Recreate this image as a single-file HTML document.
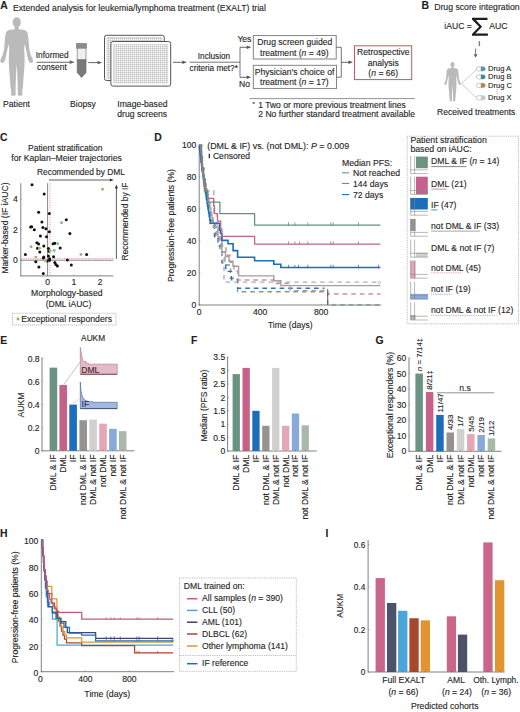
<!DOCTYPE html>
<html><head><meta charset="utf-8"><style>
html,body{margin:0;padding:0;background:#fff;}
svg{display:block;}
text{font-family:"Liberation Sans", sans-serif;}
</style></head><body>
<svg width="520" height="712" viewBox="0 0 520 712">
<defs>
<pattern id="grid" x="0" y="0" width="2" height="2" patternUnits="userSpaceOnUse">
<rect width="2" height="2" fill="#fff"/><path d="M0,0.5 H2 M0.5,0 V2" stroke="#b4b4b4" stroke-width="0.5"/>
</pattern>
</defs>
<text x="0.20" y="8.90" font-size="10.4" text-anchor="start" font-weight="bold" fill="#1e1e1e" stroke="#1e1e1e" stroke-width="0.12" >A</text>
<text x="13.00" y="10.50" font-size="8.68" text-anchor="start" font-weight="normal" fill="#1e1e1e" stroke="#1e1e1e" stroke-width="0.12" >Extended analysis for leukemia/lymphoma treatment (EXALT) trial</text>
<g transform="translate(0.00,0.00) scale(1.0)" fill="#bababa">
<ellipse cx="16.7" cy="22.3" rx="4.1" ry="5.1"/>
<path d="M14.70,26.50 L14.60,29.20 C10.50,29.50 7.00,30.00 6.00,32.50 C5.00,35.50 4.80,41.00 4.30,47.00 C3.80,51.00 3.00,54.50 2.00,56.50 C0.80,58.00 0.00,60.50 0.60,62.20 C1.60,63.60 4.00,63.00 4.80,61.00 C5.50,58.50 6.60,53.50 7.30,50.00 C7.80,47.50 8.30,45.50 8.80,44.00 L9.20,49.00 C9.00,53.00 8.70,57.00 8.80,61.00 C8.90,68.00 9.50,74.00 10.00,79.00 C10.30,83.00 10.00,86.00 11.20,90.50 L11.00,95.00 C11.50,96.00 15.30,96.00 15.60,95.00 L15.60,88.00 C15.90,78.00 16.20,70.00 16.70,64.00 C17.20,70.00 17.50,78.00 17.80,88.00 L17.80,95.00 C18.10,96.00 21.90,96.00 22.40,95.00 L22.20,90.50 C23.40,86.00 23.10,83.00 23.40,79.00 C23.90,74.00 24.50,68.00 24.60,61.00 C24.70,57.00 24.40,53.00 24.20,49.00 L24.60,44.00 C25.10,45.50 25.60,47.50 26.10,50.00 C26.80,53.50 27.90,58.50 28.60,61.00 C29.40,63.00 31.80,63.60 32.80,62.20 C33.40,60.50 32.60,58.00 31.40,56.50 C30.40,54.50 29.60,51.00 29.10,47.00 C28.60,41.00 28.40,35.50 27.40,32.50 C26.40,30.00 22.90,29.50 18.80,29.20 L18.70,26.50 Z"/>
</g>
<text x="16.50" y="107.00" font-size="8.6" text-anchor="middle" font-weight="normal" fill="#1e1e1e" stroke="#1e1e1e" stroke-width="0.12" >Patient</text>
<text x="35.80" y="57.50" font-size="8.3" text-anchor="start" font-weight="normal" fill="#1e1e1e" stroke="#1e1e1e" stroke-width="0.12" >Informed</text>
<line x1="36.50" y1="62.20" x2="70.20" y2="62.20" stroke="#666" stroke-width="1.1" />
<path d="M74.70,62.20 L69.70,60.30 L69.70,64.10 Z" fill="#666" stroke="none" stroke-width="0.8" />
<text x="37.00" y="70.20" font-size="8.5" text-anchor="start" font-weight="normal" fill="#1e1e1e" stroke="#1e1e1e" stroke-width="0.12" >consent</text>
<rect x="77.20" y="47.80" width="8.80" height="12.20" fill="#efefef" stroke="#8a8a8a" stroke-width="0.8" />
<path d="M77.2,59.7 L86,59.7 L86,72.5 L81.6,77.6 L77.2,72.5 Z" fill="#7a7a7a" stroke="#6a6a6a" stroke-width="0.6" />
<rect x="76.30" y="43.20" width="10.40" height="5.00" fill="#8b8b8b" stroke="#777" stroke-width="0.4" />
<text x="83.00" y="107.00" font-size="8.6" text-anchor="middle" font-weight="normal" fill="#1e1e1e" stroke="#1e1e1e" stroke-width="0.12" >Biopsy</text>
<line x1="88.20" y1="62.60" x2="98.10" y2="62.60" stroke="#555" stroke-width="0.9" />
<path d="M102.10,62.60 L97.60,60.90 L97.60,64.30 Z" fill="#555" stroke="none" stroke-width="0.8" />
<rect x="104.50" y="35.30" width="59.80" height="45.20" fill="#fff" stroke="#555" stroke-width="1.0" rx="2"/>
<rect x="107.00" y="37.50" width="55.00" height="41.00" fill="url(#grid)" stroke="#bbb" stroke-width="0.5" rx="1"/>
<rect x="110.90" y="41.50" width="59.80" height="44.60" fill="#fff" stroke="#555" stroke-width="1.0" rx="2"/>
<rect x="114.50" y="44.50" width="53.00" height="38.50" fill="url(#grid)" stroke="#c8c8c8" stroke-width="0.5" />
<rect x="113.00" y="44.00" width="2.20" height="39.50" fill="#ddd" stroke="none" stroke-width="0.8" />
<text x="142.40" y="107.00" font-size="8.6" text-anchor="middle" font-weight="normal" fill="#1e1e1e" stroke="#1e1e1e" stroke-width="0.12" >Image-based</text>
<text x="142.20" y="116.90" font-size="8.6" text-anchor="middle" font-weight="normal" fill="#1e1e1e" stroke="#1e1e1e" stroke-width="0.12" >drug screens</text>
<line x1="173.00" y1="62.30" x2="182.80" y2="62.30" stroke="#555" stroke-width="0.9" />
<path d="M186.80,62.30 L182.30,60.60 L182.30,64.00 Z" fill="#555" stroke="none" stroke-width="0.8" />
<text x="214.00" y="58.50" font-size="8.2" text-anchor="middle" font-weight="normal" fill="#1e1e1e" stroke="#1e1e1e" stroke-width="0.12" >Inclusion</text>
<line x1="189.50" y1="62.20" x2="240.00" y2="62.20" stroke="#555" stroke-width="0.8" />
<text x="189.60" y="71.00" font-size="8.2" text-anchor="start" font-weight="normal" fill="#1e1e1e" stroke="#1e1e1e" stroke-width="0.12" >criteria met?*</text>
<line x1="240.00" y1="47.30" x2="240.00" y2="77.30" stroke="#555" stroke-width="0.8" />
<line x1="240.00" y1="47.30" x2="247.20" y2="47.30" stroke="#555" stroke-width="0.9" />
<path d="M251.20,47.30 L246.70,45.60 L246.70,49.00 Z" fill="#555" stroke="none" stroke-width="0.8" />
<line x1="240.00" y1="77.30" x2="247.20" y2="77.30" stroke="#555" stroke-width="0.9" />
<path d="M251.20,77.30 L246.70,75.60 L246.70,79.00 Z" fill="#555" stroke="none" stroke-width="0.8" />
<text x="244.40" y="41.60" font-size="8.6" text-anchor="middle" font-weight="normal" fill="#1e1e1e" stroke="#1e1e1e" stroke-width="0.12" >Yes</text>
<text x="244.60" y="87.30" font-size="8.6" text-anchor="middle" font-weight="normal" fill="#1e1e1e" stroke="#1e1e1e" stroke-width="0.12" >No</text>
<rect x="253.30" y="35.60" width="82.90" height="23.40" fill="#fff" stroke="#777" stroke-width="0.9" />
<text x="294.80" y="45.40" font-size="8.6" text-anchor="middle" font-weight="normal" fill="#1e1e1e" stroke="#1e1e1e" stroke-width="0.12" >Drug screen guided</text>
<text x="294.30" y="56.00" font-size="8.6" text-anchor="middle" font-weight="normal" fill="#1e1e1e" stroke="#1e1e1e" stroke-width="0.12" >treatment (<tspan font-style="italic">n</tspan> = 49)</text>
<rect x="253.30" y="65.30" width="83.20" height="23.30" fill="#fff" stroke="#777" stroke-width="0.9" />
<text x="294.50" y="74.60" font-size="8.6" text-anchor="middle" font-weight="normal" fill="#1e1e1e" stroke="#1e1e1e" stroke-width="0.12" >Physician’s choice of</text>
<text x="294.30" y="84.80" font-size="8.6" text-anchor="middle" font-weight="normal" fill="#1e1e1e" stroke="#1e1e1e" stroke-width="0.12" >treatment (<tspan font-style="italic">n</tspan> = 17)</text>
<path d="M336.2,47.3 H341.3 V77.2 H336.2" fill="none" stroke="#666" stroke-width="0.9" />
<line x1="341.30" y1="62.30" x2="349.00" y2="62.30" stroke="#555" stroke-width="0.9" />
<path d="M353.00,62.30 L348.50,60.60 L348.50,64.00 Z" fill="#555" stroke="none" stroke-width="0.8" />
<rect x="354.50" y="45.80" width="57.20" height="33.80" fill="#fff" stroke="#cf5064" stroke-width="1.0" />
<text x="383.30" y="55.00" font-size="8.6" text-anchor="middle" font-weight="normal" fill="#1e1e1e" stroke="#1e1e1e" stroke-width="0.12" >Retrospective</text>
<text x="383.30" y="65.50" font-size="8.6" text-anchor="middle" font-weight="normal" fill="#1e1e1e" stroke="#1e1e1e" stroke-width="0.12" >analysis</text>
<text x="383.30" y="75.80" font-size="8.6" text-anchor="middle" font-weight="normal" fill="#1e1e1e" stroke="#1e1e1e" stroke-width="0.12" >(<tspan font-style="italic">n</tspan> = 66)</text>
<line x1="249.50" y1="98.60" x2="415.00" y2="98.60" stroke="#777" stroke-width="0.8" />
<text x="252.60" y="105.50" font-size="6" text-anchor="start" font-weight="normal" fill="#1e1e1e" stroke="#1e1e1e" stroke-width="0.12" >*</text>
<text x="258.20" y="107.80" font-size="8.56" text-anchor="start" font-weight="normal" fill="#1e1e1e" stroke="#1e1e1e" stroke-width="0.12" >1 Two or more previous treatment lines</text>
<text x="258.20" y="116.60" font-size="8.63" text-anchor="start" font-weight="normal" fill="#1e1e1e" stroke="#1e1e1e" stroke-width="0.12" >2 No further standard treatment available</text>
<text x="421.60" y="9.10" font-size="10.4" text-anchor="start" font-weight="bold" fill="#1e1e1e" stroke="#1e1e1e" stroke-width="0.12" >B</text>
<text x="434.20" y="9.60" font-size="8.7" text-anchor="start" font-weight="normal" fill="#1e1e1e" stroke="#1e1e1e" stroke-width="0.12" >Drug score integration</text>
<text x="444.30" y="29.30" font-size="8.6" text-anchor="start" font-weight="normal" fill="#1e1e1e" stroke="#1e1e1e" stroke-width="0.12" >iAUC =</text>
<path d="M472,17.8 H487.5 V20.1 H475.9 L482.1,26.8 L475.5,33.5 H487.9 V35.8 H472 V34.1 L479.1,26.8 L472,19.5 Z" fill="#1e1e1e" stroke="none" stroke-width="0.8" />
<text x="489.30" y="29.30" font-size="8.7" text-anchor="start" font-weight="normal" fill="#1e1e1e" stroke="#1e1e1e" stroke-width="0.12" >AUC</text>
<text x="479.30" y="45.80" font-size="7.2" text-anchor="middle" font-weight="normal" fill="#1e1e1e" stroke="#1e1e1e" stroke-width="0.12" >i</text>
<line x1="475.60" y1="48.50" x2="475.60" y2="54.70" stroke="#666" stroke-width="0.9" />
<path d="M475.60,57.80 L473.60,54.20 L477.60,54.20 Z" fill="#666" stroke="none" stroke-width="0.8" />
<g transform="translate(444.08,53.23) scale(0.504)" fill="#bababa">
<ellipse cx="16.7" cy="22.3" rx="4.1" ry="5.1"/>
<path d="M14.70,26.50 L14.60,29.20 C10.50,29.50 7.00,30.00 6.00,32.50 C5.00,35.50 4.80,41.00 4.30,47.00 C3.80,51.00 3.00,54.50 2.00,56.50 C0.80,58.00 0.00,60.50 0.60,62.20 C1.60,63.60 4.00,63.00 4.80,61.00 C5.50,58.50 6.60,53.50 7.30,50.00 C7.80,47.50 8.30,45.50 8.80,44.00 L9.20,49.00 C9.00,53.00 8.70,57.00 8.80,61.00 C8.90,68.00 9.50,74.00 10.00,79.00 C10.30,83.00 10.00,86.00 11.20,90.50 L11.00,95.00 C11.50,96.00 15.30,96.00 15.60,95.00 L15.60,88.00 C15.90,78.00 16.20,70.00 16.70,64.00 C17.20,70.00 17.50,78.00 17.80,88.00 L17.80,95.00 C18.10,96.00 21.90,96.00 22.40,95.00 L22.20,90.50 C23.40,86.00 23.10,83.00 23.40,79.00 C23.90,74.00 24.50,68.00 24.60,61.00 C24.70,57.00 24.40,53.00 24.20,49.00 L24.60,44.00 C25.10,45.50 25.60,47.50 26.10,50.00 C26.80,53.50 27.90,58.50 28.60,61.00 C29.40,63.00 31.80,63.60 32.80,62.20 C33.40,60.50 32.60,58.00 31.40,56.50 C30.40,54.50 29.60,51.00 29.10,47.00 C28.60,41.00 28.40,35.50 27.40,32.50 C26.40,30.00 22.90,29.50 18.80,29.20 L18.70,26.50 Z"/>
</g>
<line x1="461.50" y1="83.50" x2="476.00" y2="70.00" stroke="#aaa" stroke-width="0.6" />
<line x1="461.50" y1="83.50" x2="476.00" y2="97.50" stroke="#aaa" stroke-width="0.6" />
<rect x="476.30" y="66.80" width="9.00" height="4.20" fill="#fff" stroke="#999" stroke-width="0.5" rx="2.1"/>
<path d="M480.8,66.80 H483.2 A2.1,2.1 0 0 1 483.2,71.00 H480.8 Z" fill="#4f96b5"/>
<rect x="476.30" y="74.80" width="9.00" height="4.20" fill="#fff" stroke="#999" stroke-width="0.5" rx="2.1"/>
<path d="M480.8,74.80 H483.2 A2.1,2.1 0 0 1 483.2,79.00 H480.8 Z" fill="#3e8a9c"/>
<rect x="476.30" y="83.30" width="9.00" height="4.20" fill="#fff" stroke="#999" stroke-width="0.5" rx="2.1"/>
<path d="M480.8,83.30 H483.2 A2.1,2.1 0 0 1 483.2,87.50 H480.8 Z" fill="#b9804f"/>
<rect x="476.30" y="95.70" width="9.00" height="4.20" fill="#fff" stroke="#999" stroke-width="0.5" rx="2.1"/>
<path d="M480.8,95.70 H483.2 A2.1,2.1 0 0 1 483.2,99.90 H480.8 Z" fill="#c9c9c9"/>
<text x="488.10" y="70.80" font-size="7.5" text-anchor="start" font-weight="normal" fill="#1e1e1e" stroke="#1e1e1e" stroke-width="0.12" >Drug A</text>
<text x="488.10" y="79.30" font-size="7.5" text-anchor="start" font-weight="normal" fill="#1e1e1e" stroke="#1e1e1e" stroke-width="0.12" >Drug B</text>
<text x="488.10" y="87.50" font-size="7.5" text-anchor="start" font-weight="normal" fill="#1e1e1e" stroke="#1e1e1e" stroke-width="0.12" >Drug C</text>
<text x="488.10" y="100.00" font-size="7.5" text-anchor="start" font-weight="normal" fill="#1e1e1e" stroke="#1e1e1e" stroke-width="0.12" >Drug X</text>
<circle cx="497.1" cy="89.8" r="0.45" fill="#444"/>
<circle cx="497.1" cy="91.8" r="0.45" fill="#444"/>
<circle cx="497.1" cy="93.8" r="0.45" fill="#444"/>
<text x="476.20" y="115.30" font-size="8.56" text-anchor="middle" font-weight="normal" fill="#1e1e1e" stroke="#1e1e1e" stroke-width="0.12" >Received treatments</text>
<text x="0.10" y="140.80" font-size="10.4" text-anchor="start" font-weight="bold" fill="#1e1e1e" stroke="#1e1e1e" stroke-width="0.12" >C</text>
<text x="65.20" y="150.50" font-size="8.54" text-anchor="middle" font-weight="normal" fill="#1e1e1e" stroke="#1e1e1e" stroke-width="0.12" >Patient stratification</text>
<text x="66.60" y="160.50" font-size="8.67" text-anchor="middle" font-weight="normal" fill="#1e1e1e" stroke="#1e1e1e" stroke-width="0.12" >for Kaplan–Meier trajectories</text>
<text x="37.00" y="175.00" font-size="8.38" text-anchor="start" font-weight="normal" fill="#1e1e1e" stroke="#1e1e1e" stroke-width="0.12" >Recommended by DML</text>
<line x1="49.00" y1="180.00" x2="110.30" y2="180.00" stroke="#333" stroke-width="0.8" />
<path d="M113.80,180.00 L109.80,178.40 L109.80,181.60 Z" fill="#333" stroke="none" stroke-width="0.8" />
<text transform="translate(128.20,221.50) rotate(-90)" font-size="8.38" text-anchor="middle" fill="#1e1e1e" stroke="#1e1e1e" stroke-width="0.12" >Recommended by IF</text>
<line x1="116.40" y1="258.80" x2="116.40" y2="187.90" stroke="#333" stroke-width="0.8" />
<path d="M116.40,184.40 L114.80,188.40 L118.00,188.40 Z" fill="#333" stroke="none" stroke-width="0.8" />
<text transform="translate(8.20,228.00) rotate(-90)" font-size="8.6" text-anchor="middle" fill="#1e1e1e" stroke="#1e1e1e" stroke-width="0.12" >Marker-based (IF iAUC)</text>
<line x1="20.80" y1="183.20" x2="20.80" y2="276.30" stroke="#6a6a6a" stroke-width="0.85" />
<line x1="20.40" y1="275.90" x2="113.30" y2="275.90" stroke="#6a6a6a" stroke-width="0.85" />
<line x1="47.60" y1="183.20" x2="47.60" y2="275.90" stroke="#666" stroke-width="0.8" />
<line x1="20.80" y1="260.20" x2="113.30" y2="260.20" stroke="#666" stroke-width="0.8" />
<line x1="50.00" y1="183.20" x2="50.00" y2="275.90" stroke="#e88a98" stroke-width="0.8" stroke-dasharray="1.2,1.2"/>
<line x1="20.80" y1="258.50" x2="113.30" y2="258.50" stroke="#e88a98" stroke-width="0.8" stroke-dasharray="1.2,1.2"/>
<text x="17.80" y="202.30" font-size="8.6" text-anchor="end" font-weight="normal" fill="#1e1e1e" stroke="#1e1e1e" stroke-width="0.12" >4</text>
<line x1="20.80" y1="199.20" x2="22.00" y2="199.20" stroke="#777" stroke-width="0.6" />
<text x="17.80" y="232.80" font-size="8.6" text-anchor="end" font-weight="normal" fill="#1e1e1e" stroke="#1e1e1e" stroke-width="0.12" >2</text>
<line x1="20.80" y1="229.70" x2="22.00" y2="229.70" stroke="#777" stroke-width="0.6" />
<text x="17.80" y="263.30" font-size="8.6" text-anchor="end" font-weight="normal" fill="#1e1e1e" stroke="#1e1e1e" stroke-width="0.12" >0</text>
<line x1="20.80" y1="260.20" x2="22.00" y2="260.20" stroke="#777" stroke-width="0.6" />
<text x="47.60" y="285.10" font-size="8.6" text-anchor="middle" font-weight="normal" fill="#1e1e1e" stroke="#1e1e1e" stroke-width="0.12" >0</text>
<line x1="47.60" y1="275.90" x2="47.60" y2="274.70" stroke="#777" stroke-width="0.6" />
<text x="73.90" y="285.10" font-size="8.6" text-anchor="middle" font-weight="normal" fill="#1e1e1e" stroke="#1e1e1e" stroke-width="0.12" >1</text>
<line x1="73.90" y1="275.90" x2="73.90" y2="274.70" stroke="#777" stroke-width="0.6" />
<text x="100.20" y="285.10" font-size="8.6" text-anchor="middle" font-weight="normal" fill="#1e1e1e" stroke="#1e1e1e" stroke-width="0.12" >2</text>
<line x1="100.20" y1="275.90" x2="100.20" y2="274.70" stroke="#777" stroke-width="0.6" />
<text x="66.80" y="296.20" font-size="8.63" text-anchor="middle" font-weight="normal" fill="#1e1e1e" stroke="#1e1e1e" stroke-width="0.12" >Morphology-based</text>
<text x="68.50" y="306.70" font-size="8.5" text-anchor="middle" font-weight="normal" fill="#1e1e1e" stroke="#1e1e1e" stroke-width="0.12" >(DML iAUC)</text>
<circle cx="32.0" cy="184.8" r="1.5" fill="#111"/>
<circle cx="44.2" cy="194.1" r="1.5" fill="#111"/>
<circle cx="38.6" cy="212.3" r="1.5" fill="#111"/>
<circle cx="49.3" cy="213.4" r="1.5" fill="#111"/>
<circle cx="66.3" cy="219.8" r="1.5" fill="#111"/>
<circle cx="41.9" cy="222.1" r="1.5" fill="#111"/>
<circle cx="30.6" cy="227.1" r="1.5" fill="#111"/>
<circle cx="31.7" cy="226.7" r="1.5" fill="#111"/>
<circle cx="34.3" cy="229.8" r="1.5" fill="#111"/>
<circle cx="42.9" cy="227.5" r="1.5" fill="#111"/>
<circle cx="45.9" cy="228.7" r="1.5" fill="#111"/>
<circle cx="49.4" cy="231.7" r="1.5" fill="#111"/>
<circle cx="69.9" cy="233.4" r="1.5" fill="#111"/>
<circle cx="40.4" cy="235.9" r="1.5" fill="#111"/>
<circle cx="46.5" cy="236.7" r="1.5" fill="#111"/>
<circle cx="36.9" cy="242.7" r="1.5" fill="#111"/>
<circle cx="38.6" cy="244.1" r="1.5" fill="#111"/>
<circle cx="53.1" cy="243.8" r="1.5" fill="#111"/>
<circle cx="54.8" cy="243.3" r="1.5" fill="#111"/>
<circle cx="43.8" cy="245.9" r="1.5" fill="#111"/>
<circle cx="37.5" cy="248.2" r="1.5" fill="#111"/>
<circle cx="48.4" cy="248.5" r="1.5" fill="#111"/>
<circle cx="60.2" cy="247.9" r="1.5" fill="#111"/>
<circle cx="39.8" cy="252.1" r="1.5" fill="#111"/>
<circle cx="25.4" cy="254.5" r="1.5" fill="#111"/>
<circle cx="48.4" cy="256" r="1.5" fill="#111"/>
<circle cx="53.6" cy="256.8" r="1.5" fill="#111"/>
<circle cx="43.8" cy="257.1" r="1.5" fill="#111"/>
<circle cx="43.3" cy="257.9" r="1.5" fill="#111"/>
<circle cx="49.6" cy="258.8" r="1.5" fill="#111"/>
<circle cx="47.3" cy="260.9" r="1.5" fill="#111"/>
<circle cx="49.6" cy="260.2" r="1.5" fill="#111"/>
<circle cx="67.4" cy="260" r="1.5" fill="#111"/>
<circle cx="35.8" cy="261.7" r="1.5" fill="#111"/>
<circle cx="54.8" cy="262.5" r="1.5" fill="#111"/>
<circle cx="55.9" cy="264.6" r="1.5" fill="#111"/>
<circle cx="57.4" cy="266" r="1.5" fill="#111"/>
<circle cx="71.3" cy="264.9" r="1.5" fill="#111"/>
<circle cx="38.9" cy="266.9" r="1.5" fill="#111"/>
<circle cx="43.3" cy="273.6" r="1.5" fill="#111"/>
<circle cx="86.6" cy="254.5" r="1.5" fill="#111"/>
<circle cx="49" cy="251.3" r="1.5" fill="#111"/>
<circle cx="102.5" cy="189.3" r="1.45" fill="#86c070"/>
<circle cx="61.5" cy="222.7" r="1.45" fill="#86c070"/>
<circle cx="57.7" cy="243.8" r="1.45" fill="#86c070"/>
<circle cx="31.1" cy="246.7" r="1.45" fill="#86c070"/>
<circle cx="39.5" cy="248.2" r="1.45" fill="#86c070"/>
<circle cx="54.2" cy="250.5" r="1.45" fill="#86c070"/>
<circle cx="50.2" cy="250.8" r="1.45" fill="#86c070"/>
<circle cx="35.8" cy="257.1" r="1.45" fill="#86c070"/>
<circle cx="45.6" cy="260.9" r="1.45" fill="#86c070"/>
<circle cx="80.9" cy="254.5" r="1.45" fill="#86c070"/>
<rect x="12.50" y="313.20" width="103.50" height="11.80" fill="none" stroke="#777" stroke-width="0.6" stroke-dasharray="1,1"/>
<circle cx="18" cy="319" r="1.4" fill="#78b860"/>
<text x="21.20" y="322.20" font-size="8.7" text-anchor="start" font-weight="normal" fill="#1e1e1e" stroke="#1e1e1e" stroke-width="0.12" >Exceptional responders</text>
<text x="154.30" y="140.70" font-size="10.4" text-anchor="start" font-weight="bold" fill="#1e1e1e" stroke="#1e1e1e" stroke-width="0.12" >D</text>
<text transform="translate(174.00,225.60) rotate(-90)" font-size="8.7" text-anchor="middle" fill="#1e1e1e" stroke="#1e1e1e" stroke-width="0.12" >Progression-free patients (%)</text>
<line x1="199.20" y1="144.50" x2="199.20" y2="305.40" stroke="#6a6a6a" stroke-width="0.85" />
<line x1="198.80" y1="305.00" x2="381.20" y2="305.00" stroke="#6a6a6a" stroke-width="0.85" />
<text x="196.30" y="308.10" font-size="8.6" text-anchor="end" font-weight="normal" fill="#1e1e1e" stroke="#1e1e1e" stroke-width="0.12" >0</text>
<line x1="199.20" y1="305.00" x2="200.40" y2="305.00" stroke="#777" stroke-width="0.6" />
<text x="196.30" y="276.10" font-size="8.6" text-anchor="end" font-weight="normal" fill="#1e1e1e" stroke="#1e1e1e" stroke-width="0.12" >20</text>
<line x1="199.20" y1="273.00" x2="200.40" y2="273.00" stroke="#777" stroke-width="0.6" />
<text x="196.30" y="244.10" font-size="8.6" text-anchor="end" font-weight="normal" fill="#1e1e1e" stroke="#1e1e1e" stroke-width="0.12" >40</text>
<line x1="199.20" y1="241.00" x2="200.40" y2="241.00" stroke="#777" stroke-width="0.6" />
<text x="196.30" y="212.10" font-size="8.6" text-anchor="end" font-weight="normal" fill="#1e1e1e" stroke="#1e1e1e" stroke-width="0.12" >60</text>
<line x1="199.20" y1="209.00" x2="200.40" y2="209.00" stroke="#777" stroke-width="0.6" />
<text x="196.30" y="180.10" font-size="8.6" text-anchor="end" font-weight="normal" fill="#1e1e1e" stroke="#1e1e1e" stroke-width="0.12" >80</text>
<line x1="199.20" y1="177.00" x2="200.40" y2="177.00" stroke="#777" stroke-width="0.6" />
<text x="196.30" y="148.10" font-size="8.6" text-anchor="end" font-weight="normal" fill="#1e1e1e" stroke="#1e1e1e" stroke-width="0.12" >100</text>
<line x1="199.20" y1="145.00" x2="200.40" y2="145.00" stroke="#777" stroke-width="0.6" />
<text x="199.20" y="314.60" font-size="8.6" text-anchor="middle" font-weight="normal" fill="#1e1e1e" stroke="#1e1e1e" stroke-width="0.12" >0</text>
<line x1="199.20" y1="305.00" x2="199.20" y2="303.80" stroke="#777" stroke-width="0.6" />
<text x="260.20" y="314.60" font-size="8.6" text-anchor="middle" font-weight="normal" fill="#1e1e1e" stroke="#1e1e1e" stroke-width="0.12" >400</text>
<line x1="260.20" y1="305.00" x2="260.20" y2="303.80" stroke="#777" stroke-width="0.6" />
<text x="321.20" y="314.60" font-size="8.6" text-anchor="middle" font-weight="normal" fill="#1e1e1e" stroke="#1e1e1e" stroke-width="0.12" >800</text>
<line x1="321.20" y1="305.00" x2="321.20" y2="303.80" stroke="#777" stroke-width="0.6" />
<text x="290.20" y="327.50" font-size="8.5" text-anchor="middle" font-weight="normal" fill="#1e1e1e" stroke="#1e1e1e" stroke-width="0.12" >Time (days)</text>
<text x="207.20" y="148.60" font-size="8.9" text-anchor="start" font-weight="normal" fill="#1e1e1e" stroke="#1e1e1e" stroke-width="0.12" >(DML &amp; IF) vs. (not DML): <tspan font-style="italic">P</tspan> = 0.009</text>
<line x1="209.30" y1="153.80" x2="209.30" y2="158.20" stroke="#222" stroke-width="1.2" />
<text x="212.90" y="158.60" font-size="8.6" text-anchor="start" font-weight="normal" fill="#1e1e1e" stroke="#1e1e1e" stroke-width="0.12" >Censored</text>
<text x="342.00" y="165.60" font-size="8.7" text-anchor="start" font-weight="normal" fill="#1e1e1e" stroke="#1e1e1e" stroke-width="0.12" >Median PFS:</text>
<line x1="342.00" y1="172.80" x2="349.20" y2="172.80" stroke="#6a9383" stroke-width="1.1" />
<text x="353.00" y="175.90" font-size="8.63" text-anchor="start" font-weight="normal" fill="#1e1e1e" stroke="#1e1e1e" stroke-width="0.12" >Not reached</text>
<line x1="342.00" y1="183.50" x2="349.20" y2="183.50" stroke="#c6618a" stroke-width="1.1" />
<text x="353.00" y="186.70" font-size="8.63" text-anchor="start" font-weight="normal" fill="#1e1e1e" stroke="#1e1e1e" stroke-width="0.12" >144 days</text>
<line x1="342.00" y1="194.60" x2="349.20" y2="194.60" stroke="#1b6eb9" stroke-width="1.1" />
<text x="353.00" y="197.50" font-size="8.63" text-anchor="start" font-weight="normal" fill="#1e1e1e" stroke="#1e1e1e" stroke-width="0.12" >72 days</text>
<path d="M199.20,145.00 H200.52 V158.33 H202.22 V171.67 H204.12 V185.00 H206.15 V198.33 H208.28 V211.67 H210.50 V225.00 H215.50 V238.28 H220.00 V251.72 H225.00 V265.00 H230.50 V278.28 H237.60 V291.72 H327.70 V305.00 H380.40" fill="none" stroke="#7f9a86" stroke-width="1.4" stroke-dasharray="4.6,4" stroke-linejoin="miter"/>
<path d="M199.20,145.00 H200.01 V153.42 H201.06 V161.84 H202.22 V170.26 H203.47 V178.68 H204.78 V187.11 H206.15 V195.53 H207.56 V203.95 H209.01 V212.37 H210.50 V220.79 H214.50 V237.64 H218.00 V246.12 H221.90 V262.92 H225.80 V271.40 H231.50 V279.72 H237.60 V288.20 H324.50" fill="none" stroke="#2f72bd" stroke-width="1.4" stroke-dasharray="4.6,4" stroke-linejoin="miter"/>
<path d="M199.20,145.00 H201.80 V167.88 H204.20 V190.76 H213.80 V213.64 H217.20 V236.36 H221.60 V259.24 H224.00 V282.12 H380.40" fill="none" stroke="#b0b0b0" stroke-width="1.4" stroke-dasharray="4.6,4" stroke-linejoin="miter"/>
<path d="M199.20,145.00 H199.52 V148.56 H199.94 V152.11 H200.40 V155.67 H200.89 V159.22 H201.41 V162.78 H201.95 V166.33 H202.51 V169.89 H203.09 V173.44 H203.68 V177.00 H204.28 V180.56 H204.89 V184.11 H205.52 V187.67 H206.16 V191.22 H206.81 V194.78 H207.46 V198.33 H208.13 V201.89 H208.80 V205.44 H209.48 V209.00 H210.17 V212.56 H210.87 V216.11 H211.57 V219.67 H212.28 V223.22 H213.00 V226.78 H216.50 V237.48 H219.50 V244.52 H222.50 V248.04 H226.00 V255.24 H230.00 V262.28 H234.00 V271.24 H238.00 V280.04 H273.80 V283.56 H290.00 V290.60 H327.70 V293.96 H380.40" fill="none" stroke="#d88aa0" stroke-width="1.4" stroke-dasharray="4.6,4" stroke-linejoin="miter"/>
<path d="M199.20,145.00 H199.69 V149.85 H200.33 V154.70 H201.05 V159.55 H201.81 V164.39 H202.61 V169.24 H203.44 V174.09 H204.30 V178.94 H205.19 V183.79 H206.10 V188.64 H207.03 V193.48 H207.98 V198.33 H208.94 V203.18 H209.93 V208.03 H210.92 V212.88 H211.94 V217.73 H212.96 V222.58 H214.00 V227.42 H218.00 V237.16 H221.90 V251.72 H225.50 V256.52 H229.00 V261.32 H233.00 V266.28 H238.60 V275.88 H273.80 V280.68 H280.80 V285.64 H380.40" fill="none" stroke="#a0a0a0" stroke-width="1.4"  stroke-linejoin="miter"/>
<path d="M199.20,145.00 H199.50 V148.40 H199.87 V151.81 H200.27 V155.21 H200.68 V158.62 H201.12 V162.02 H201.57 V165.43 H202.03 V168.83 H202.50 V172.23 H202.97 V175.64 H203.46 V179.04 H203.95 V182.45 H204.45 V185.85 H204.96 V189.26 H205.47 V192.66 H205.99 V196.06 H206.51 V199.47 H207.04 V202.87 H207.57 V206.28 H208.11 V209.68 H208.65 V213.09 H209.20 V216.49 H209.75 V219.89 H210.30 V223.30 H219.50 V230.12 H220.50 V233.48 H221.90 V240.36 H228.00 V243.72 H233.10 V250.60 H237.60 V257.32 H254.60 V260.68 H273.80 V264.20 H280.80 V267.56 H380.40" fill="none" stroke="#1b6eb9" stroke-width="1.6"  stroke-linejoin="miter"/>
<line x1="288.50" y1="264.76" x2="288.50" y2="268.26" stroke="#1b6eb9" stroke-width="0.75" />
<line x1="294.90" y1="264.76" x2="294.90" y2="268.26" stroke="#1b6eb9" stroke-width="0.75" />
<line x1="298.50" y1="264.76" x2="298.50" y2="268.26" stroke="#1b6eb9" stroke-width="0.75" />
<line x1="307.80" y1="264.76" x2="307.80" y2="268.26" stroke="#1b6eb9" stroke-width="0.75" />
<line x1="330.80" y1="264.76" x2="330.80" y2="268.26" stroke="#1b6eb9" stroke-width="0.75" />
<line x1="333.20" y1="264.76" x2="333.20" y2="268.26" stroke="#1b6eb9" stroke-width="0.75" />
<line x1="358.50" y1="264.76" x2="358.50" y2="268.26" stroke="#1b6eb9" stroke-width="0.75" />
<line x1="378.40" y1="264.76" x2="378.40" y2="268.26" stroke="#1b6eb9" stroke-width="0.75" />
<path d="M199.20,145.00 H200.60 V152.68 H201.20 V160.20 H201.90 V167.88 H202.70 V175.40 H203.50 V183.08 H204.40 V190.76 H207.60 V198.28 H213.60 V205.96 H214.50 V213.64 H217.50 V221.16 H220.70 V228.84 H221.90 V236.36 H254.60 V244.04 H380.40" fill="none" stroke="#c6618a" stroke-width="1.25"  stroke-linejoin="miter"/>
<line x1="288.50" y1="241.24" x2="288.50" y2="244.74" stroke="#c6618a" stroke-width="0.75" />
<line x1="294.90" y1="241.24" x2="294.90" y2="244.74" stroke="#c6618a" stroke-width="0.75" />
<line x1="299.50" y1="241.24" x2="299.50" y2="244.74" stroke="#c6618a" stroke-width="0.75" />
<line x1="307.80" y1="241.24" x2="307.80" y2="244.74" stroke="#c6618a" stroke-width="0.75" />
<line x1="330.80" y1="241.24" x2="330.80" y2="244.74" stroke="#c6618a" stroke-width="0.75" />
<line x1="333.20" y1="241.24" x2="333.20" y2="244.74" stroke="#c6618a" stroke-width="0.75" />
<line x1="358.50" y1="241.24" x2="358.50" y2="244.74" stroke="#c6618a" stroke-width="0.75" />
<path d="M199.20,145.00 H201.60 V156.36 H202.50 V167.88 H203.60 V179.24 H205.20 V190.76 H207.60 V202.12 H219.90 V213.64 H254.60 V225.00 H380.40" fill="none" stroke="#64917c" stroke-width="1.25"  stroke-linejoin="miter"/>
<line x1="288.50" y1="222.20" x2="288.50" y2="225.70" stroke="#64917c" stroke-width="0.75" />
<line x1="294.90" y1="222.20" x2="294.90" y2="225.70" stroke="#64917c" stroke-width="0.75" />
<line x1="307.80" y1="222.20" x2="307.80" y2="225.70" stroke="#64917c" stroke-width="0.75" />
<line x1="330.80" y1="222.20" x2="330.80" y2="225.70" stroke="#64917c" stroke-width="0.75" />
<line x1="333.20" y1="222.20" x2="333.20" y2="225.70" stroke="#64917c" stroke-width="0.75" />
<line x1="358.50" y1="222.20" x2="358.50" y2="225.70" stroke="#64917c" stroke-width="0.75" />
<circle cx="379.3" cy="282.6" r="1.2" fill="none" stroke="#999" stroke-width="0.6"/>
<line x1="327.70" y1="289.00" x2="327.70" y2="305.00" stroke="#555" stroke-width="0.9" />
<rect x="407.20" y="136.20" width="111.30" height="187.60" fill="none" stroke="#888" stroke-width="0.6" stroke-dasharray="0.9,0.9"/>
<text x="410.40" y="143.10" font-size="8.75" text-anchor="start" font-weight="normal" fill="#1e1e1e" stroke="#1e1e1e" stroke-width="0.12" >Patient stratification</text>
<text x="410.40" y="152.30" font-size="8.75" text-anchor="start" font-weight="normal" fill="#1e1e1e" stroke="#1e1e1e" stroke-width="0.12" >based on iAUC:</text>
<rect x="416.00" y="156.60" width="11.80" height="11.60" fill="#6a9383" stroke="none" stroke-width="0.8" />
<line x1="410.70" y1="156.00" x2="410.70" y2="173.60" stroke="#888" stroke-width="0.6" />
<line x1="414.60" y1="156.00" x2="414.60" y2="173.60" stroke="#888" stroke-width="0.6" />
<line x1="410.70" y1="169.80" x2="427.80" y2="169.80" stroke="#888" stroke-width="0.6" />
<line x1="410.70" y1="173.60" x2="427.80" y2="173.60" stroke="#888" stroke-width="0.6" />
<text x="431.10" y="164.40" font-size="8.6" text-anchor="start" font-weight="normal" fill="#1e1e1e" stroke="#1e1e1e" stroke-width="0.12" >DML &amp; IF (<tspan font-style="italic">n</tspan> = 14)</text>
<line x1="431.20" y1="166.60" x2="466.40" y2="166.60" stroke="#4f6a5c" stroke-width="0.75" />
<rect x="416.00" y="176.70" width="11.80" height="17.60" fill="#c6618a" stroke="none" stroke-width="0.8" />
<line x1="410.70" y1="176.70" x2="410.70" y2="194.30" stroke="#888" stroke-width="0.6" />
<line x1="414.60" y1="176.70" x2="414.60" y2="194.30" stroke="#888" stroke-width="0.6" />
<line x1="410.70" y1="190.50" x2="427.80" y2="190.50" stroke="#888" stroke-width="0.6" />
<line x1="410.70" y1="194.30" x2="427.80" y2="194.30" stroke="#888" stroke-width="0.6" />
<text x="431.10" y="186.90" font-size="8.6" text-anchor="start" font-weight="normal" fill="#1e1e1e" stroke="#1e1e1e" stroke-width="0.12" >DML (21)</text>
<line x1="431.20" y1="189.10" x2="446.50" y2="189.10" stroke="#c6618a" stroke-width="0.75" />
<rect x="410.20" y="198.00" width="17.60" height="11.50" fill="#1b6eb9" stroke="none" stroke-width="0.8" />
<line x1="410.70" y1="197.60" x2="410.70" y2="215.20" stroke="#888" stroke-width="0.6" />
<line x1="414.60" y1="197.60" x2="414.60" y2="215.20" stroke="#888" stroke-width="0.6" />
<line x1="410.70" y1="211.40" x2="427.80" y2="211.40" stroke="#888" stroke-width="0.6" />
<line x1="410.70" y1="215.20" x2="427.80" y2="215.20" stroke="#888" stroke-width="0.6" />
<text x="431.10" y="207.70" font-size="8.6" text-anchor="start" font-weight="normal" fill="#1e1e1e" stroke="#1e1e1e" stroke-width="0.12" >IF (47)</text>
<line x1="431.20" y1="209.90" x2="437.40" y2="209.90" stroke="#1b6eb9" stroke-width="0.75" />
<rect x="410.40" y="219.00" width="5.20" height="12.00" fill="#979292" stroke="none" stroke-width="0.8" />
<line x1="410.70" y1="218.60" x2="410.70" y2="236.20" stroke="#888" stroke-width="0.6" />
<line x1="414.60" y1="218.60" x2="414.60" y2="236.20" stroke="#888" stroke-width="0.6" />
<line x1="410.70" y1="232.40" x2="427.80" y2="232.40" stroke="#888" stroke-width="0.6" />
<line x1="410.70" y1="236.20" x2="427.80" y2="236.20" stroke="#888" stroke-width="0.6" />
<text x="431.10" y="228.90" font-size="8.6" text-anchor="start" font-weight="normal" fill="#1e1e1e" stroke="#1e1e1e" stroke-width="0.12" >not DML &amp; IF (33)</text>
<line x1="431.20" y1="231.10" x2="480.00" y2="231.10" stroke="#888" stroke-width="0.75" />
<rect x="416.00" y="252.50" width="11.80" height="4.60" fill="#d0d0d0" stroke="none" stroke-width="0.8" />
<line x1="410.70" y1="239.60" x2="410.70" y2="257.20" stroke="#888" stroke-width="0.6" />
<line x1="414.60" y1="239.60" x2="414.60" y2="257.20" stroke="#888" stroke-width="0.6" />
<line x1="410.70" y1="253.40" x2="427.80" y2="253.40" stroke="#888" stroke-width="0.6" />
<line x1="410.70" y1="257.20" x2="427.80" y2="257.20" stroke="#888" stroke-width="0.6" />
<text x="431.10" y="250.90" font-size="8.6" text-anchor="start" font-weight="normal" fill="#1e1e1e" stroke="#1e1e1e" stroke-width="0.12" >DML &amp; not IF (7)</text>
<rect x="410.40" y="260.60" width="5.20" height="17.60" fill="#e3a7b8" stroke="none" stroke-width="0.8" />
<line x1="410.70" y1="260.60" x2="410.70" y2="278.20" stroke="#888" stroke-width="0.6" />
<line x1="414.60" y1="260.60" x2="414.60" y2="278.20" stroke="#888" stroke-width="0.6" />
<line x1="410.70" y1="274.40" x2="427.80" y2="274.40" stroke="#888" stroke-width="0.6" />
<line x1="410.70" y1="278.20" x2="427.80" y2="278.20" stroke="#888" stroke-width="0.6" />
<text x="431.10" y="270.60" font-size="8.6" text-anchor="start" font-weight="normal" fill="#1e1e1e" stroke="#1e1e1e" stroke-width="0.12" >not DML (45)</text>
<line x1="431.20" y1="272.80" x2="461.90" y2="272.80" stroke="#d27a94" stroke-width="0.75" stroke-dasharray="0.9,0.9"/>
<rect x="410.20" y="293.90" width="17.90" height="5.40" fill="#89a9dd" stroke="none" stroke-width="0.8" />
<line x1="410.70" y1="281.50" x2="410.70" y2="299.10" stroke="#888" stroke-width="0.6" />
<line x1="414.60" y1="281.50" x2="414.60" y2="299.10" stroke="#888" stroke-width="0.6" />
<line x1="410.70" y1="295.30" x2="427.80" y2="295.30" stroke="#888" stroke-width="0.6" />
<line x1="410.70" y1="299.10" x2="427.80" y2="299.10" stroke="#888" stroke-width="0.6" />
<text x="431.10" y="292.00" font-size="8.6" text-anchor="start" font-weight="normal" fill="#1e1e1e" stroke="#1e1e1e" stroke-width="0.12" >not IF (19)</text>
<line x1="431.20" y1="294.20" x2="451.60" y2="294.20" stroke="#5a86c8" stroke-width="0.75" stroke-dasharray="0.9,0.9"/>
<rect x="410.40" y="315.00" width="5.20" height="4.80" fill="#a8b9aa" stroke="none" stroke-width="0.8" />
<line x1="410.70" y1="302.40" x2="410.70" y2="320.00" stroke="#888" stroke-width="0.6" />
<line x1="414.60" y1="302.40" x2="414.60" y2="320.00" stroke="#888" stroke-width="0.6" />
<line x1="410.70" y1="316.20" x2="427.80" y2="316.20" stroke="#888" stroke-width="0.6" />
<line x1="410.70" y1="320.00" x2="427.80" y2="320.00" stroke="#888" stroke-width="0.6" />
<text x="431.10" y="313.20" font-size="8.6" text-anchor="start" font-weight="normal" fill="#1e1e1e" stroke="#1e1e1e" stroke-width="0.12" >not DML &amp; not IF (12)</text>
<line x1="431.20" y1="315.40" x2="496.50" y2="315.40" stroke="#8a9a8c" stroke-width="0.75" stroke-dasharray="0.9,0.9"/>
<text x="0.20" y="344.20" font-size="10.4" text-anchor="start" font-weight="bold" fill="#1e1e1e" stroke="#1e1e1e" stroke-width="0.12" >E</text>
<text x="93.10" y="340.50" font-size="8.3" text-anchor="middle" font-weight="normal" fill="#1e1e1e" stroke="#1e1e1e" stroke-width="0.12" >AUKM</text>
<text transform="translate(24.30,405.00) rotate(-90)" font-size="8.6" text-anchor="middle" fill="#1e1e1e" stroke="#1e1e1e" stroke-width="0.12" >AUKM</text>
<line x1="42.00" y1="357.50" x2="42.00" y2="451.20" stroke="#6a6a6a" stroke-width="0.85" />
<line x1="41.60" y1="450.80" x2="134.30" y2="450.80" stroke="#6a6a6a" stroke-width="0.85" />
<text x="39.60" y="453.90" font-size="8.6" text-anchor="end" font-weight="normal" fill="#1e1e1e" stroke="#1e1e1e" stroke-width="0.12" >0</text>
<line x1="42.00" y1="450.80" x2="43.20" y2="450.80" stroke="#777" stroke-width="0.6" />
<text x="39.60" y="430.80" font-size="8.6" text-anchor="end" font-weight="normal" fill="#1e1e1e" stroke="#1e1e1e" stroke-width="0.12" >0.2</text>
<line x1="42.00" y1="427.70" x2="43.20" y2="427.70" stroke="#777" stroke-width="0.6" />
<text x="39.60" y="407.70" font-size="8.6" text-anchor="end" font-weight="normal" fill="#1e1e1e" stroke="#1e1e1e" stroke-width="0.12" >0.4</text>
<line x1="42.00" y1="404.60" x2="43.20" y2="404.60" stroke="#777" stroke-width="0.6" />
<text x="39.60" y="384.60" font-size="8.6" text-anchor="end" font-weight="normal" fill="#1e1e1e" stroke="#1e1e1e" stroke-width="0.12" >0.6</text>
<line x1="42.00" y1="381.50" x2="43.20" y2="381.50" stroke="#777" stroke-width="0.6" />
<text x="39.60" y="361.50" font-size="8.6" text-anchor="end" font-weight="normal" fill="#1e1e1e" stroke="#1e1e1e" stroke-width="0.12" >0.8</text>
<line x1="42.00" y1="358.40" x2="43.20" y2="358.40" stroke="#777" stroke-width="0.6" />
<rect x="49.60" y="367.64" width="7.60" height="83.16" fill="#6a9383" stroke="none" stroke-width="0.8" />
<line x1="53.40" y1="450.80" x2="53.40" y2="449.60" stroke="#555" stroke-width="0.5" />
<text transform="translate(56.40,454.60) rotate(-90)" font-size="8.6" text-anchor="end" fill="#1e1e1e" stroke="#1e1e1e" stroke-width="0.12" >DML &amp; IF</text>
<rect x="59.40" y="384.97" width="7.60" height="65.83" fill="#c6618a" stroke="none" stroke-width="0.8" />
<line x1="63.20" y1="450.80" x2="63.20" y2="449.60" stroke="#555" stroke-width="0.5" />
<text transform="translate(66.20,454.60) rotate(-90)" font-size="8.6" text-anchor="end" fill="#1e1e1e" stroke="#1e1e1e" stroke-width="0.12" >DML</text>
<rect x="69.30" y="404.60" width="7.60" height="46.20" fill="#1b6eb9" stroke="none" stroke-width="0.8" />
<line x1="73.10" y1="450.80" x2="73.10" y2="449.60" stroke="#555" stroke-width="0.5" />
<text transform="translate(76.10,454.60) rotate(-90)" font-size="8.6" text-anchor="end" fill="#1e1e1e" stroke="#1e1e1e" stroke-width="0.12" >IF</text>
<rect x="79.40" y="420.19" width="7.60" height="30.61" fill="#979292" stroke="none" stroke-width="0.8" />
<line x1="83.20" y1="450.80" x2="83.20" y2="449.60" stroke="#555" stroke-width="0.5" />
<text transform="translate(86.20,454.60) rotate(-90)" font-size="8.6" text-anchor="end" fill="#1e1e1e" stroke="#1e1e1e" stroke-width="0.12" >not DML &amp; IF</text>
<rect x="89.30" y="419.62" width="7.60" height="31.19" fill="#d0d0d0" stroke="none" stroke-width="0.8" />
<line x1="93.10" y1="450.80" x2="93.10" y2="449.60" stroke="#555" stroke-width="0.5" />
<text transform="translate(96.10,454.60) rotate(-90)" font-size="8.6" text-anchor="end" fill="#1e1e1e" stroke="#1e1e1e" stroke-width="0.12" >DML &amp; not IF</text>
<rect x="99.20" y="423.66" width="7.60" height="27.14" fill="#e3a7b8" stroke="none" stroke-width="0.8" />
<line x1="103.00" y1="450.80" x2="103.00" y2="449.60" stroke="#555" stroke-width="0.5" />
<text transform="translate(106.00,454.60) rotate(-90)" font-size="8.6" text-anchor="end" fill="#1e1e1e" stroke="#1e1e1e" stroke-width="0.12" >not DML</text>
<rect x="109.10" y="428.86" width="7.60" height="21.95" fill="#89a9dd" stroke="none" stroke-width="0.8" />
<line x1="112.90" y1="450.80" x2="112.90" y2="449.60" stroke="#555" stroke-width="0.5" />
<text transform="translate(115.90,454.60) rotate(-90)" font-size="8.6" text-anchor="end" fill="#1e1e1e" stroke="#1e1e1e" stroke-width="0.12" >not IF</text>
<rect x="118.90" y="431.17" width="7.60" height="19.64" fill="#a8b9aa" stroke="none" stroke-width="0.8" />
<line x1="122.70" y1="450.80" x2="122.70" y2="449.60" stroke="#555" stroke-width="0.5" />
<text transform="translate(125.70,454.60) rotate(-90)" font-size="8.6" text-anchor="end" fill="#1e1e1e" stroke="#1e1e1e" stroke-width="0.12" >not DML &amp; not IF</text>
<path d="M80.3,374.3 V347.4 L81,352 L81.8,356.3 L82.6,359.4 L83.4,361.6 H86.2 V363.4 H88.5 V364.2 H117.2 V374.3 Z" fill="#e5b9c6" stroke="#b97d90" stroke-width="0.7" />
<line x1="80.30" y1="374.30" x2="117.20" y2="374.30" stroke="#6a4a55" stroke-width="0.9" />
<text x="81.20" y="372.60" font-size="8.6" text-anchor="start" font-weight="normal" fill="#3a2a30" stroke="#3a2a30" stroke-width="0.12" >DML</text>
<line x1="63.70" y1="384.60" x2="80.00" y2="362.20" stroke="#888" stroke-width="0.5" />
<path d="M80.3,408.6 V382 L80.9,390 L81.7,394.5 L82.8,397.5 L84.3,399.6 L86.5,400.9 L89.5,401.7 H93 V402.3 H117.2 V408.6 Z" fill="#a3b7e2" stroke="#56719e" stroke-width="0.7" />
<line x1="80.30" y1="408.60" x2="117.20" y2="408.60" stroke="#3f4f70" stroke-width="0.9" />
<text x="81.50" y="406.90" font-size="8.6" text-anchor="start" font-weight="normal" fill="#2a3050" stroke="#2a3050" stroke-width="0.12" >IF</text>
<line x1="73.20" y1="404.30" x2="79.20" y2="398.50" stroke="#c9a070" stroke-width="0.5" />
<text x="191.10" y="344.10" font-size="10.4" text-anchor="start" font-weight="bold" fill="#1e1e1e" stroke="#1e1e1e" stroke-width="0.12" >F</text>
<text transform="translate(207.30,405.60) rotate(-90)" font-size="8.58" text-anchor="middle" fill="#1e1e1e" stroke="#1e1e1e" stroke-width="0.12" >Median (PFS ratio)</text>
<line x1="227.60" y1="356.80" x2="227.60" y2="451.40" stroke="#6a6a6a" stroke-width="0.85" />
<line x1="227.20" y1="451.00" x2="316.90" y2="451.00" stroke="#6a6a6a" stroke-width="0.85" />
<text x="225.20" y="454.10" font-size="8.6" text-anchor="end" font-weight="normal" fill="#1e1e1e" stroke="#1e1e1e" stroke-width="0.12" >0</text>
<line x1="227.60" y1="451.00" x2="228.80" y2="451.00" stroke="#777" stroke-width="0.6" />
<text x="225.20" y="440.70" font-size="8.6" text-anchor="end" font-weight="normal" fill="#1e1e1e" stroke="#1e1e1e" stroke-width="0.12" >0.5</text>
<line x1="227.60" y1="437.60" x2="228.80" y2="437.60" stroke="#777" stroke-width="0.6" />
<text x="225.20" y="427.30" font-size="8.6" text-anchor="end" font-weight="normal" fill="#1e1e1e" stroke="#1e1e1e" stroke-width="0.12" >1</text>
<line x1="227.60" y1="424.20" x2="228.80" y2="424.20" stroke="#777" stroke-width="0.6" />
<text x="225.20" y="413.90" font-size="8.6" text-anchor="end" font-weight="normal" fill="#1e1e1e" stroke="#1e1e1e" stroke-width="0.12" >1.5</text>
<line x1="227.60" y1="410.80" x2="228.80" y2="410.80" stroke="#777" stroke-width="0.6" />
<text x="225.20" y="400.50" font-size="8.6" text-anchor="end" font-weight="normal" fill="#1e1e1e" stroke="#1e1e1e" stroke-width="0.12" >2</text>
<line x1="227.60" y1="397.40" x2="228.80" y2="397.40" stroke="#777" stroke-width="0.6" />
<text x="225.20" y="387.10" font-size="8.6" text-anchor="end" font-weight="normal" fill="#1e1e1e" stroke="#1e1e1e" stroke-width="0.12" >2.5</text>
<line x1="227.60" y1="384.00" x2="228.80" y2="384.00" stroke="#777" stroke-width="0.6" />
<text x="225.20" y="373.70" font-size="8.6" text-anchor="end" font-weight="normal" fill="#1e1e1e" stroke="#1e1e1e" stroke-width="0.12" >3</text>
<line x1="227.60" y1="370.60" x2="228.80" y2="370.60" stroke="#777" stroke-width="0.6" />
<text x="225.20" y="360.30" font-size="8.6" text-anchor="end" font-weight="normal" fill="#1e1e1e" stroke="#1e1e1e" stroke-width="0.12" >3.5</text>
<line x1="227.60" y1="357.20" x2="228.80" y2="357.20" stroke="#777" stroke-width="0.6" />
<rect x="232.60" y="374.08" width="7.30" height="76.92" fill="#6a9383" stroke="none" stroke-width="0.8" />
<line x1="236.25" y1="451.00" x2="236.25" y2="449.80" stroke="#555" stroke-width="0.5" />
<text transform="translate(239.25,454.80) rotate(-90)" font-size="8.6" text-anchor="end" fill="#1e1e1e" stroke="#1e1e1e" stroke-width="0.12" >DML &amp; IF</text>
<rect x="242.50" y="367.92" width="7.30" height="83.08" fill="#c6618a" stroke="none" stroke-width="0.8" />
<line x1="246.15" y1="451.00" x2="246.15" y2="449.80" stroke="#555" stroke-width="0.5" />
<text transform="translate(249.15,454.80) rotate(-90)" font-size="8.6" text-anchor="end" fill="#1e1e1e" stroke="#1e1e1e" stroke-width="0.12" >DML</text>
<rect x="252.30" y="410.80" width="7.30" height="40.20" fill="#1b6eb9" stroke="none" stroke-width="0.8" />
<line x1="255.95" y1="451.00" x2="255.95" y2="449.80" stroke="#555" stroke-width="0.5" />
<text transform="translate(258.95,454.80) rotate(-90)" font-size="8.6" text-anchor="end" fill="#1e1e1e" stroke="#1e1e1e" stroke-width="0.12" >IF</text>
<rect x="262.20" y="425.81" width="7.30" height="25.19" fill="#979292" stroke="none" stroke-width="0.8" />
<line x1="265.85" y1="451.00" x2="265.85" y2="449.80" stroke="#555" stroke-width="0.5" />
<text transform="translate(268.85,454.80) rotate(-90)" font-size="8.6" text-anchor="end" fill="#1e1e1e" stroke="#1e1e1e" stroke-width="0.12" >not DML &amp; IF</text>
<rect x="272.10" y="367.92" width="7.30" height="83.08" fill="#d0d0d0" stroke="none" stroke-width="0.8" />
<line x1="275.75" y1="451.00" x2="275.75" y2="449.80" stroke="#555" stroke-width="0.5" />
<text transform="translate(278.75,454.80) rotate(-90)" font-size="8.6" text-anchor="end" fill="#1e1e1e" stroke="#1e1e1e" stroke-width="0.12" >DML &amp; not IF</text>
<rect x="282.00" y="425.81" width="7.30" height="25.19" fill="#e3a7b8" stroke="none" stroke-width="0.8" />
<line x1="285.65" y1="451.00" x2="285.65" y2="449.80" stroke="#555" stroke-width="0.5" />
<text transform="translate(288.65,454.80) rotate(-90)" font-size="8.6" text-anchor="end" fill="#1e1e1e" stroke="#1e1e1e" stroke-width="0.12" >not DML</text>
<rect x="291.80" y="413.48" width="7.30" height="37.52" fill="#89a9dd" stroke="none" stroke-width="0.8" />
<line x1="295.45" y1="451.00" x2="295.45" y2="449.80" stroke="#555" stroke-width="0.5" />
<text transform="translate(298.45,454.80) rotate(-90)" font-size="8.6" text-anchor="end" fill="#1e1e1e" stroke="#1e1e1e" stroke-width="0.12" >not IF</text>
<rect x="301.60" y="425.27" width="7.30" height="25.73" fill="#a8b9aa" stroke="none" stroke-width="0.8" />
<line x1="305.25" y1="451.00" x2="305.25" y2="449.80" stroke="#555" stroke-width="0.5" />
<text transform="translate(308.25,454.80) rotate(-90)" font-size="8.6" text-anchor="end" fill="#1e1e1e" stroke="#1e1e1e" stroke-width="0.12" >not DML &amp; not IF</text>
<text x="375.60" y="344.30" font-size="10.4" text-anchor="start" font-weight="bold" fill="#1e1e1e" stroke="#1e1e1e" stroke-width="0.12" >G</text>
<text transform="translate(393.00,405.00) rotate(-90)" font-size="8.67" text-anchor="middle" fill="#1e1e1e" stroke="#1e1e1e" stroke-width="0.12" >Exceptional responders (%)</text>
<line x1="409.00" y1="357.50" x2="409.00" y2="451.60" stroke="#6a6a6a" stroke-width="0.85" />
<line x1="408.60" y1="451.30" x2="501.50" y2="451.30" stroke="#6a6a6a" stroke-width="0.85" />
<text x="406.20" y="454.40" font-size="8.6" text-anchor="end" font-weight="normal" fill="#1e1e1e" stroke="#1e1e1e" stroke-width="0.12" >0</text>
<line x1="409.00" y1="451.30" x2="410.20" y2="451.30" stroke="#777" stroke-width="0.6" />
<text x="406.20" y="438.85" font-size="8.6" text-anchor="end" font-weight="normal" fill="#1e1e1e" stroke="#1e1e1e" stroke-width="0.12" >10</text>
<line x1="409.00" y1="435.75" x2="410.20" y2="435.75" stroke="#777" stroke-width="0.6" />
<text x="406.20" y="423.30" font-size="8.6" text-anchor="end" font-weight="normal" fill="#1e1e1e" stroke="#1e1e1e" stroke-width="0.12" >20</text>
<line x1="409.00" y1="420.20" x2="410.20" y2="420.20" stroke="#777" stroke-width="0.6" />
<text x="406.20" y="407.75" font-size="8.6" text-anchor="end" font-weight="normal" fill="#1e1e1e" stroke="#1e1e1e" stroke-width="0.12" >30</text>
<line x1="409.00" y1="404.65" x2="410.20" y2="404.65" stroke="#777" stroke-width="0.6" />
<text x="406.20" y="392.20" font-size="8.6" text-anchor="end" font-weight="normal" fill="#1e1e1e" stroke="#1e1e1e" stroke-width="0.12" >40</text>
<line x1="409.00" y1="389.10" x2="410.20" y2="389.10" stroke="#777" stroke-width="0.6" />
<text x="406.20" y="376.65" font-size="8.6" text-anchor="end" font-weight="normal" fill="#1e1e1e" stroke="#1e1e1e" stroke-width="0.12" >50</text>
<line x1="409.00" y1="373.55" x2="410.20" y2="373.55" stroke="#777" stroke-width="0.6" />
<text x="406.20" y="361.10" font-size="8.6" text-anchor="end" font-weight="normal" fill="#1e1e1e" stroke="#1e1e1e" stroke-width="0.12" >60</text>
<line x1="409.00" y1="358.00" x2="410.20" y2="358.00" stroke="#777" stroke-width="0.6" />
<rect x="415.40" y="373.55" width="7.50" height="77.75" fill="#6a9383" stroke="none" stroke-width="0.8" />
<line x1="419.15" y1="451.30" x2="419.15" y2="450.10" stroke="#555" stroke-width="0.5" />
<text transform="translate(422.15,454.80) rotate(-90)" font-size="8.6" text-anchor="end" fill="#1e1e1e" stroke="#1e1e1e" stroke-width="0.12" >DML &amp; IF</text>
<text transform="translate(421.95,371.25) rotate(-90)" font-size="8.0" text-anchor="start" fill="#1e1e1e" stroke="#1e1e1e" stroke-width="0.12" ><tspan font-style="italic">n</tspan> = 7/14<tspan font-size="6.5">‡</tspan></text>
<rect x="425.90" y="392.05" width="7.50" height="59.25" fill="#c6618a" stroke="none" stroke-width="0.8" />
<line x1="429.65" y1="451.30" x2="429.65" y2="450.10" stroke="#555" stroke-width="0.5" />
<text transform="translate(432.65,454.80) rotate(-90)" font-size="8.6" text-anchor="end" fill="#1e1e1e" stroke="#1e1e1e" stroke-width="0.12" >DML</text>
<text transform="translate(432.45,389.75) rotate(-90)" font-size="8.0" text-anchor="start" fill="#1e1e1e" stroke="#1e1e1e" stroke-width="0.12" >8/21<tspan font-size="6.5">‡</tspan></text>
<rect x="436.20" y="414.91" width="7.50" height="36.39" fill="#1b6eb9" stroke="none" stroke-width="0.8" />
<line x1="439.95" y1="451.30" x2="439.95" y2="450.10" stroke="#555" stroke-width="0.5" />
<text transform="translate(442.95,454.80) rotate(-90)" font-size="8.6" text-anchor="end" fill="#1e1e1e" stroke="#1e1e1e" stroke-width="0.12" >IF</text>
<text transform="translate(442.75,412.61) rotate(-90)" font-size="8.0" text-anchor="start" fill="#1e1e1e" stroke="#1e1e1e" stroke-width="0.12" >11/47</text>
<rect x="446.50" y="432.48" width="7.50" height="18.82" fill="#979292" stroke="none" stroke-width="0.8" />
<line x1="450.25" y1="451.30" x2="450.25" y2="450.10" stroke="#555" stroke-width="0.5" />
<text transform="translate(453.25,454.80) rotate(-90)" font-size="8.6" text-anchor="end" fill="#1e1e1e" stroke="#1e1e1e" stroke-width="0.12" >not DML &amp; IF</text>
<text transform="translate(453.05,430.18) rotate(-90)" font-size="8.0" text-anchor="start" fill="#1e1e1e" stroke="#1e1e1e" stroke-width="0.12" >4/33</text>
<rect x="456.80" y="429.06" width="7.50" height="22.24" fill="#d0d0d0" stroke="none" stroke-width="0.8" />
<line x1="460.55" y1="451.30" x2="460.55" y2="450.10" stroke="#555" stroke-width="0.5" />
<text transform="translate(463.55,454.80) rotate(-90)" font-size="8.6" text-anchor="end" fill="#1e1e1e" stroke="#1e1e1e" stroke-width="0.12" >DML &amp; not IF</text>
<text transform="translate(463.35,426.76) rotate(-90)" font-size="8.0" text-anchor="start" fill="#1e1e1e" stroke="#1e1e1e" stroke-width="0.12" >1/7</text>
<rect x="467.10" y="434.04" width="7.50" height="17.26" fill="#e3a7b8" stroke="none" stroke-width="0.8" />
<line x1="470.85" y1="451.30" x2="470.85" y2="450.10" stroke="#555" stroke-width="0.5" />
<text transform="translate(473.85,454.80) rotate(-90)" font-size="8.6" text-anchor="end" fill="#1e1e1e" stroke="#1e1e1e" stroke-width="0.12" >not DML</text>
<text transform="translate(473.65,431.74) rotate(-90)" font-size="8.0" text-anchor="start" fill="#1e1e1e" stroke="#1e1e1e" stroke-width="0.12" >5/45</text>
<rect x="477.40" y="434.97" width="7.50" height="16.33" fill="#89a9dd" stroke="none" stroke-width="0.8" />
<line x1="481.15" y1="451.30" x2="481.15" y2="450.10" stroke="#555" stroke-width="0.5" />
<text transform="translate(484.15,454.80) rotate(-90)" font-size="8.6" text-anchor="end" fill="#1e1e1e" stroke="#1e1e1e" stroke-width="0.12" >not IF</text>
<text transform="translate(483.95,432.67) rotate(-90)" font-size="8.0" text-anchor="start" fill="#1e1e1e" stroke="#1e1e1e" stroke-width="0.12" >2/19</text>
<rect x="487.70" y="438.39" width="7.50" height="12.91" fill="#a8b9aa" stroke="none" stroke-width="0.8" />
<line x1="491.45" y1="451.30" x2="491.45" y2="450.10" stroke="#555" stroke-width="0.5" />
<text transform="translate(494.45,454.80) rotate(-90)" font-size="8.6" text-anchor="end" fill="#1e1e1e" stroke="#1e1e1e" stroke-width="0.12" >not DML &amp; not IF</text>
<text transform="translate(494.25,436.09) rotate(-90)" font-size="8.0" text-anchor="start" fill="#1e1e1e" stroke="#1e1e1e" stroke-width="0.12" >1/12</text>
<line x1="436.80" y1="392.80" x2="494.20" y2="392.80" stroke="#666" stroke-width="0.7" />
<text x="465.00" y="390.60" font-size="8.6" text-anchor="middle" font-weight="normal" fill="#1e1e1e" stroke="#1e1e1e" stroke-width="0.12" >n.s</text>
<text x="0.10" y="537.20" font-size="10.4" text-anchor="start" font-weight="bold" fill="#1e1e1e" stroke="#1e1e1e" stroke-width="0.12" >H</text>
<text transform="translate(18.30,607.30) rotate(-90)" font-size="8.6" text-anchor="middle" fill="#1e1e1e" stroke="#1e1e1e" stroke-width="0.12" >Progression-free patients (%)</text>
<line x1="41.30" y1="539.50" x2="41.30" y2="672.10" stroke="#6a6a6a" stroke-width="0.85" />
<line x1="40.90" y1="671.70" x2="174.10" y2="671.70" stroke="#6a6a6a" stroke-width="0.85" />
<text x="38.40" y="675.90" font-size="8.6" text-anchor="end" font-weight="normal" fill="#1e1e1e" stroke="#1e1e1e" stroke-width="0.12" >0</text>
<line x1="41.30" y1="671.70" x2="42.50" y2="671.70" stroke="#777" stroke-width="0.6" />
<text x="38.40" y="649.56" font-size="8.6" text-anchor="end" font-weight="normal" fill="#1e1e1e" stroke="#1e1e1e" stroke-width="0.12" >20</text>
<line x1="41.30" y1="645.36" x2="42.50" y2="645.36" stroke="#777" stroke-width="0.6" />
<text x="38.40" y="623.22" font-size="8.6" text-anchor="end" font-weight="normal" fill="#1e1e1e" stroke="#1e1e1e" stroke-width="0.12" >40</text>
<line x1="41.30" y1="619.02" x2="42.50" y2="619.02" stroke="#777" stroke-width="0.6" />
<text x="38.40" y="596.88" font-size="8.6" text-anchor="end" font-weight="normal" fill="#1e1e1e" stroke="#1e1e1e" stroke-width="0.12" >60</text>
<line x1="41.30" y1="592.68" x2="42.50" y2="592.68" stroke="#777" stroke-width="0.6" />
<text x="38.40" y="570.54" font-size="8.6" text-anchor="end" font-weight="normal" fill="#1e1e1e" stroke="#1e1e1e" stroke-width="0.12" >80</text>
<line x1="41.30" y1="566.34" x2="42.50" y2="566.34" stroke="#777" stroke-width="0.6" />
<text x="38.40" y="544.20" font-size="8.6" text-anchor="end" font-weight="normal" fill="#1e1e1e" stroke="#1e1e1e" stroke-width="0.12" >100</text>
<line x1="41.30" y1="540.00" x2="42.50" y2="540.00" stroke="#777" stroke-width="0.6" />
<text x="40.50" y="682.40" font-size="8.6" text-anchor="middle" font-weight="normal" fill="#1e1e1e" stroke="#1e1e1e" stroke-width="0.12" >0</text>
<line x1="41.30" y1="671.70" x2="41.30" y2="670.50" stroke="#777" stroke-width="0.6" />
<text x="85.38" y="682.40" font-size="8.6" text-anchor="middle" font-weight="normal" fill="#1e1e1e" stroke="#1e1e1e" stroke-width="0.12" >400</text>
<line x1="85.38" y1="671.70" x2="85.38" y2="670.50" stroke="#777" stroke-width="0.6" />
<text x="129.46" y="682.40" font-size="8.6" text-anchor="middle" font-weight="normal" fill="#1e1e1e" stroke="#1e1e1e" stroke-width="0.12" >800</text>
<line x1="129.46" y1="671.70" x2="129.46" y2="670.50" stroke="#777" stroke-width="0.6" />
<text x="107.30" y="697.20" font-size="8.75" text-anchor="middle" font-weight="normal" fill="#1e1e1e" stroke="#1e1e1e" stroke-width="0.12" >Time (days)</text>
<path d="M41.3,540 H43.2 V556 H43.9 V568 H44.6 V578 H45.4 V588 H46.2 V597 H47.4 V603 H47.8 V606.6 H52.4 V619 H57.1 V645.2 H173.1" fill="none" stroke="#4aa7d7" stroke-width="1.25" stroke-linejoin="miter"/>
<path d="M41.3,540 H42.3 V548 H43 V556 H43.7 V563 H44.4 V570 H45.1 V576 H45.9 V581 H46.7 V586 V593.7 H51.8 V603 H54.3 V608 H56.9 V616 H58.5 V621 H60 V626 H61.5 V631 H63 V635 H64.5 V639 H66.5 V642.8 H81.7 V645.6 H134.6 V652.8 H173.1" fill="none" stroke="#a9472c" stroke-width="1.25" stroke-linejoin="miter"/>
<path d="M41.3,540 H42.3 V548 H43 V556 H43.7 V563 H44.4 V570 H45.1 V576 H45.9 V581 H46.7 V586 H46.7 V586.4 H51.8 V598.8 H56.9 V612 H58 V617 H59.5 V622 H61 V627 H63 V631.5 H64.8 V635 H66.5 V637.9 H81.7 V642.1 H173.1" fill="none" stroke="#e0952f" stroke-width="1.25" stroke-linejoin="miter"/>
<path d="M41.3,540 H42.3 V548 H43 V556 H43.7 V563 H44.4 V570 H45.1 V576 H45.9 V581 H46.7 V586 V591 H47.6 V600 H48.2 V606.6 H52.4 V612 H57.1 V618.4 H60.8 V621.6 H65.8 V627.4 H67.3 V632.7 H95.6 V638.4 H173.1" fill="none" stroke="#3f4470" stroke-width="1.25" stroke-linejoin="miter"/>
<path d="M41.3,540 H42.5 V552 H43.3 V562 H44 V571 H44.8 V580 H45.6 V588 H46.6 V595 H47.8 V602 H49 V606.6 H52.4 V613 H56 V618.4 H60.8 V623 H64 V627.4 H69.4 V633 H81.7 V635.2 H95.6 V640.8 H173.1" fill="none" stroke="#1f6fb8" stroke-width="1.25" stroke-linejoin="miter"/>
<path d="M41.3,540 H42.3 V548 H43 V556 H43.7 V563 H44.4 V570 H45.1 V576 H45.9 V581 H46.7 V586 V590 H48.2 V595 H49.5 V599 H51 V603 H53 V606 H55 V609 H56.5 V611 H58.5 V612.4 H81.7 V619.1 H173.1" fill="none" stroke="#c9587c" stroke-width="1.25" stroke-linejoin="miter"/>
<line x1="106.20" y1="617.30" x2="106.20" y2="619.60" stroke="#c9587c" stroke-width="0.7" />
<line x1="106.20" y1="636.40" x2="106.20" y2="638.90" stroke="#3f4470" stroke-width="0.7" />
<line x1="106.20" y1="638.80" x2="106.20" y2="641.30" stroke="#1f6fb8" stroke-width="0.7" />
<line x1="110.80" y1="617.30" x2="110.80" y2="619.60" stroke="#c9587c" stroke-width="0.7" />
<line x1="110.80" y1="636.40" x2="110.80" y2="638.90" stroke="#3f4470" stroke-width="0.7" />
<line x1="110.80" y1="638.80" x2="110.80" y2="641.30" stroke="#1f6fb8" stroke-width="0.7" />
<line x1="114.20" y1="617.30" x2="114.20" y2="619.60" stroke="#c9587c" stroke-width="0.7" />
<line x1="114.20" y1="636.40" x2="114.20" y2="638.90" stroke="#3f4470" stroke-width="0.7" />
<line x1="114.20" y1="638.80" x2="114.20" y2="641.30" stroke="#1f6fb8" stroke-width="0.7" />
<line x1="120.30" y1="617.30" x2="120.30" y2="619.60" stroke="#c9587c" stroke-width="0.7" />
<line x1="120.30" y1="636.40" x2="120.30" y2="638.90" stroke="#3f4470" stroke-width="0.7" />
<line x1="120.30" y1="638.80" x2="120.30" y2="641.30" stroke="#1f6fb8" stroke-width="0.7" />
<line x1="136.90" y1="617.30" x2="136.90" y2="619.60" stroke="#c9587c" stroke-width="0.7" />
<line x1="136.90" y1="636.40" x2="136.90" y2="638.90" stroke="#3f4470" stroke-width="0.7" />
<line x1="136.90" y1="638.80" x2="136.90" y2="641.30" stroke="#1f6fb8" stroke-width="0.7" />
<line x1="139.20" y1="617.30" x2="139.20" y2="619.60" stroke="#c9587c" stroke-width="0.7" />
<line x1="139.20" y1="636.40" x2="139.20" y2="638.90" stroke="#3f4470" stroke-width="0.7" />
<line x1="139.20" y1="638.80" x2="139.20" y2="641.30" stroke="#1f6fb8" stroke-width="0.7" />
<line x1="157.70" y1="617.30" x2="157.70" y2="619.60" stroke="#c9587c" stroke-width="0.7" />
<line x1="157.70" y1="636.40" x2="157.70" y2="638.90" stroke="#3f4470" stroke-width="0.7" />
<line x1="157.70" y1="638.80" x2="157.70" y2="641.30" stroke="#1f6fb8" stroke-width="0.7" />
<line x1="136.90" y1="650.80" x2="136.90" y2="653.20" stroke="#a9472c" stroke-width="0.7" />
<line x1="139.20" y1="650.80" x2="139.20" y2="653.20" stroke="#a9472c" stroke-width="0.7" />
<line x1="157.70" y1="650.80" x2="157.70" y2="653.20" stroke="#a9472c" stroke-width="0.7" />
<line x1="106.20" y1="640.20" x2="106.20" y2="642.60" stroke="#e0952f" stroke-width="0.7" />
<line x1="110.80" y1="640.20" x2="110.80" y2="642.60" stroke="#e0952f" stroke-width="0.7" />
<line x1="120.30" y1="640.20" x2="120.30" y2="642.60" stroke="#e0952f" stroke-width="0.7" />
<circle cx="172.6" cy="640.5" r="1.1" fill="none" stroke="#1f6fb8" stroke-width="0.6"/>
<rect x="179.50" y="578.00" width="116.80" height="93.30" fill="none" stroke="#888" stroke-width="0.6" stroke-dasharray="0.9,0.9"/>
<line x1="179.50" y1="655.50" x2="296.30" y2="655.50" stroke="#888" stroke-width="0.6" stroke-dasharray="0.9,0.9"/>
<text x="183.80" y="588.80" font-size="8.6" text-anchor="start" font-weight="normal" fill="#1e1e1e" stroke="#1e1e1e" stroke-width="0.12" >DML trained on:</text>
<line x1="187.00" y1="598.70" x2="197.50" y2="598.70" stroke="#c9587c" stroke-width="1.5" />
<text x="202.00" y="601.30" font-size="8.6" text-anchor="start" font-weight="normal" fill="#1e1e1e" stroke="#1e1e1e" stroke-width="0.12" >All samples (<tspan font-style="italic">n</tspan> = 390)</text>
<line x1="187.00" y1="610.40" x2="197.50" y2="610.40" stroke="#4aa7d7" stroke-width="1.5" />
<text x="202.00" y="613.00" font-size="8.6" text-anchor="start" font-weight="normal" fill="#1e1e1e" stroke="#1e1e1e" stroke-width="0.12" >CLL (50)</text>
<line x1="187.00" y1="622.20" x2="197.50" y2="622.20" stroke="#3f4470" stroke-width="1.5" />
<text x="202.00" y="624.80" font-size="8.6" text-anchor="start" font-weight="normal" fill="#1e1e1e" stroke="#1e1e1e" stroke-width="0.12" >AML (101)</text>
<line x1="187.00" y1="634.00" x2="197.50" y2="634.00" stroke="#a9472c" stroke-width="1.5" />
<text x="202.00" y="636.60" font-size="8.6" text-anchor="start" font-weight="normal" fill="#1e1e1e" stroke="#1e1e1e" stroke-width="0.12" >DLBCL (62)</text>
<line x1="187.00" y1="646.00" x2="197.50" y2="646.00" stroke="#e0952f" stroke-width="1.5" />
<text x="202.00" y="648.60" font-size="8.6" text-anchor="start" font-weight="normal" fill="#1e1e1e" stroke="#1e1e1e" stroke-width="0.12" >Other lymphoma (141)</text>
<line x1="187.00" y1="663.70" x2="197.50" y2="663.70" stroke="#1f6fb8" stroke-width="1.5" />
<text x="202.00" y="666.30" font-size="8.6" text-anchor="start" font-weight="normal" fill="#1e1e1e" stroke="#1e1e1e" stroke-width="0.12" >IF reference</text>
<text x="325.50" y="537.20" font-size="10.4" text-anchor="start" font-weight="bold" fill="#1e1e1e" stroke="#1e1e1e" stroke-width="0.12" >I</text>
<text transform="translate(343.00,605.80) rotate(-90)" font-size="8.3" text-anchor="middle" fill="#1e1e1e" stroke="#1e1e1e" stroke-width="0.12" >AUKM</text>
<line x1="368.10" y1="540.00" x2="368.10" y2="672.40" stroke="#6a6a6a" stroke-width="0.85" />
<line x1="367.70" y1="672.00" x2="504.60" y2="672.00" stroke="#6a6a6a" stroke-width="0.85" />
<text x="365.40" y="675.10" font-size="8.3" text-anchor="end" font-weight="normal" fill="#1e1e1e" stroke="#1e1e1e" stroke-width="0.12" >0</text>
<line x1="368.10" y1="672.00" x2="369.30" y2="672.00" stroke="#777" stroke-width="0.6" />
<text x="365.40" y="632.60" font-size="8.3" text-anchor="end" font-weight="normal" fill="#1e1e1e" stroke="#1e1e1e" stroke-width="0.12" >0.2</text>
<line x1="368.10" y1="629.50" x2="369.30" y2="629.50" stroke="#777" stroke-width="0.6" />
<text x="365.40" y="590.10" font-size="8.3" text-anchor="end" font-weight="normal" fill="#1e1e1e" stroke="#1e1e1e" stroke-width="0.12" >0.4</text>
<line x1="368.10" y1="587.00" x2="369.30" y2="587.00" stroke="#777" stroke-width="0.6" />
<text x="365.40" y="547.60" font-size="8.3" text-anchor="end" font-weight="normal" fill="#1e1e1e" stroke="#1e1e1e" stroke-width="0.12" >0.6</text>
<line x1="368.10" y1="544.50" x2="369.30" y2="544.50" stroke="#777" stroke-width="0.6" />
<rect x="375.60" y="578.08" width="9.30" height="93.92" fill="#c9668a" stroke="none" stroke-width="0.8" />
<line x1="380.25" y1="672.00" x2="380.25" y2="670.80" stroke="#444" stroke-width="0.5" />
<rect x="387.00" y="602.94" width="9.30" height="69.06" fill="#4c5269" stroke="none" stroke-width="0.8" />
<line x1="391.65" y1="672.00" x2="391.65" y2="670.80" stroke="#444" stroke-width="0.5" />
<rect x="398.10" y="610.80" width="9.30" height="61.20" fill="#4aa6d8" stroke="none" stroke-width="0.8" />
<line x1="402.75" y1="672.00" x2="402.75" y2="670.80" stroke="#444" stroke-width="0.5" />
<rect x="409.40" y="618.24" width="9.30" height="53.76" fill="#a6482b" stroke="none" stroke-width="0.8" />
<line x1="414.05" y1="672.00" x2="414.05" y2="670.80" stroke="#444" stroke-width="0.5" />
<rect x="420.70" y="620.36" width="9.30" height="51.64" fill="#e0952f" stroke="none" stroke-width="0.8" />
<line x1="425.35" y1="672.00" x2="425.35" y2="670.80" stroke="#444" stroke-width="0.5" />
<rect x="446.80" y="616.33" width="9.30" height="55.68" fill="#c9668a" stroke="none" stroke-width="0.8" />
<line x1="451.45" y1="672.00" x2="451.45" y2="670.80" stroke="#444" stroke-width="0.5" />
<rect x="457.90" y="634.60" width="9.30" height="37.40" fill="#4c5269" stroke="none" stroke-width="0.8" />
<line x1="462.55" y1="672.00" x2="462.55" y2="670.80" stroke="#444" stroke-width="0.5" />
<rect x="483.30" y="542.38" width="9.30" height="129.62" fill="#c9668a" stroke="none" stroke-width="0.8" />
<line x1="487.95" y1="672.00" x2="487.95" y2="670.80" stroke="#444" stroke-width="0.5" />
<rect x="495.00" y="580.20" width="9.30" height="91.80" fill="#e0952f" stroke="none" stroke-width="0.8" />
<line x1="499.65" y1="672.00" x2="499.65" y2="670.80" stroke="#444" stroke-width="0.5" />
<text x="403.70" y="683.00" font-size="8.63" text-anchor="middle" font-weight="normal" fill="#1e1e1e" stroke="#1e1e1e" stroke-width="0.12" >Full EXALT</text>
<text x="403.40" y="695.40" font-size="8.6" text-anchor="middle" font-weight="normal" fill="#1e1e1e" stroke="#1e1e1e" stroke-width="0.12" >(<tspan font-style="italic">n</tspan> = 66)</text>
<text x="456.20" y="683.00" font-size="8.6" text-anchor="middle" font-weight="normal" fill="#1e1e1e" stroke="#1e1e1e" stroke-width="0.12" >AML</text>
<text x="457.00" y="695.40" font-size="8.6" text-anchor="middle" font-weight="normal" fill="#1e1e1e" stroke="#1e1e1e" stroke-width="0.12" >(<tspan font-style="italic">n</tspan> = 24)</text>
<text x="495.90" y="683.00" font-size="8.4" text-anchor="middle" font-weight="normal" fill="#1e1e1e" stroke="#1e1e1e" stroke-width="0.12" >Oth. Lymph.</text>
<text x="496.20" y="695.40" font-size="8.6" text-anchor="middle" font-weight="normal" fill="#1e1e1e" stroke="#1e1e1e" stroke-width="0.12" >(<tspan font-style="italic">n</tspan> = 36)</text>
<text x="444.70" y="709.20" font-size="8.7" text-anchor="middle" font-weight="normal" fill="#1e1e1e" stroke="#1e1e1e" stroke-width="0.12" >Predicted cohorts</text>
</svg>
</body></html>
